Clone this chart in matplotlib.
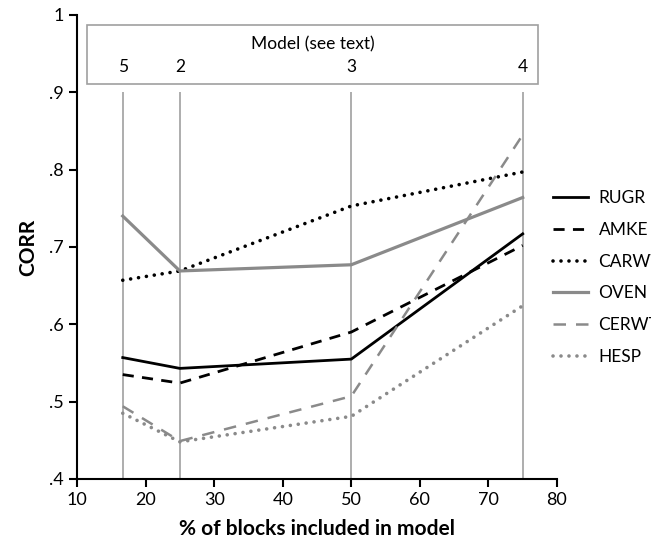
import matplotlib.pyplot as plt
from matplotlib.patches import Rectangle

plt.rcParams['font.family'] = ['Lato', 'DejaVu Sans']

# % of blocks included in model, one value per model
pct = [16.67, 25, 50, 75]
models = ['5', '2', '3', '4']

rugr = [0.557, 0.543, 0.555, 0.717]
amke = [0.535, 0.524, 0.590, 0.702]
carw = [0.657, 0.669, 0.753, 0.797]
oven = [0.740, 0.669, 0.677, 0.764]
cerwt = [0.494, 0.449, 0.507, 0.845]
hesp = [0.485, 0.448, 0.481, 0.624]

names = ['RUGR', 'AMKE', 'CARWT', 'OVEN', 'CERWT', 'HESP']

grey = '#8a8a8a'

fig = plt.figure(figsize=(6.51, 5.43), dpi=100)
ax = fig.add_axes([0.1183, 0.1179, 0.7373, 0.8545])

# model markers
ax.vlines(pct, 0.4, 0.9, color='#a0a0a0', linewidth=1.2, zorder=1)
ax.add_patch(Rectangle((11.5, 0.911), 77.2 - 11.5, 0.987 - 0.911,
                       fill=False, edgecolor='#a0a0a0', linewidth=1.2))
ax.text(44.35, 0.962, 'Model (see text)', ha='center', va='center', fontsize=12.5)
for x, m in zip(pct, models):
    ax.text(x, 0.933, m, ha='center', va='center', fontsize=12.5)

ax.plot(pct, rugr, color='black', lw=2, ls='-', label=names[0])
ax.plot(pct, amke, color='black', lw=2, ls=(0, (4, 3)), label=names[1])
ax.plot(pct, carw, color='black', lw=2.6, ls=(0, (0.01, 2.2)), dash_capstyle='round', label=names[2])
ax.plot(pct, oven, color=grey, lw=2.3, ls='-', label=names[3])
ax.plot(pct, cerwt, color=grey, lw=1.8, ls=(0, (5, 4)), label=names[4])
ax.plot(pct, hesp, color=grey, lw=2.6, ls=(0, (0.01, 2.2)), dash_capstyle='round', label=names[5])

ax.set_xlim(10, 80)
ax.set_ylim(0.4, 1.0)
ax.set_xticks(range(10, 81, 10))
ax.set_yticks([0.4, 0.5, 0.6, 0.7, 0.8, 0.9, 1.0])
ax.set_yticklabels(['.4', '.5', '.6', '.7', '.8', '.9', '1'])
ax.tick_params(labelsize=13, direction='out', length=6, width=1.5)

for s in ['top', 'right']:
    ax.spines[s].set_visible(False)
for s in ['left', 'bottom']:
    ax.spines[s].set_linewidth(1.5)

ax.set_xlabel('% of blocks included in model', fontsize=15, fontweight='bold', labelpad=8)
ax.set_ylabel('CORR', fontsize=15, fontweight='bold', labelpad=8)

fig.legend(loc='upper left', bbox_to_anchor=(0.826, 0.678), frameon=False,
           fontsize=12.5, handlelength=2.0, labelspacing=0.9, handletextpad=0.6)

fig.savefig('out.png', dpi=100)
